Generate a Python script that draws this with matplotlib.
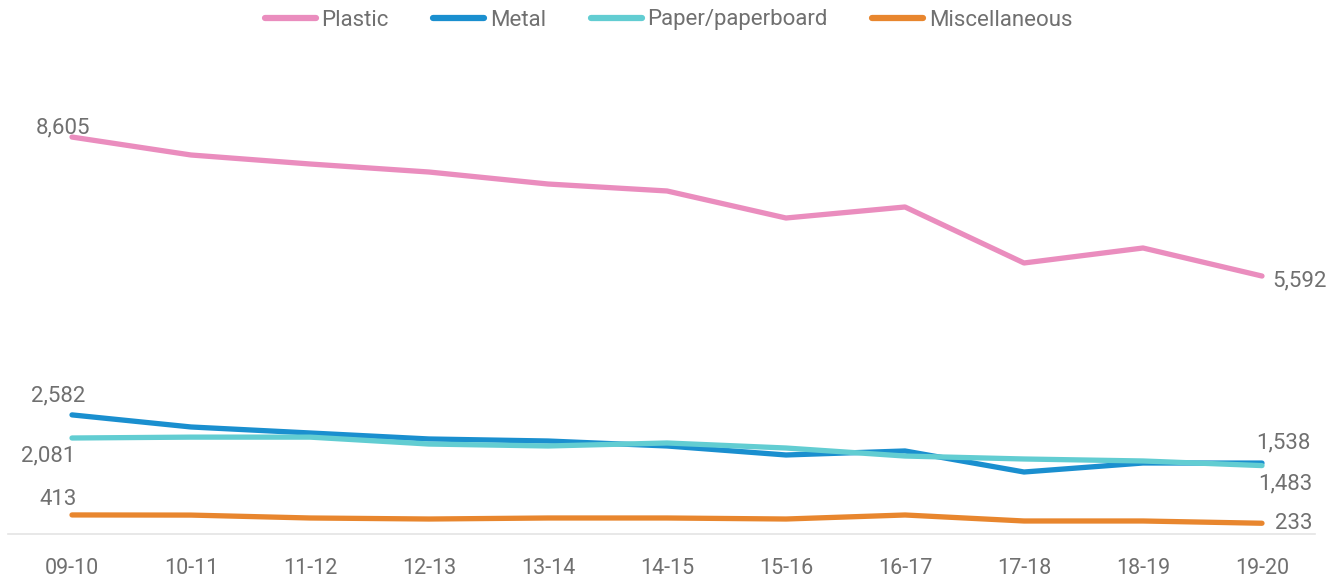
import matplotlib
matplotlib.use("Agg")
import matplotlib.pyplot as plt

categories = ["09-10", "10-11", "11-12", "12-13", "13-14", "14-15",
              "15-16", "16-17", "17-18", "18-19", "19-20"]
plastic = [8605, 8216, 8021, 7847, 7587, 7436, 6850, 7089, 5875, 6200, 5592]
metal = [2582, 2320, 2190, 2060, 2016, 1908, 1713, 1800, 1344, 1539, 1538]
paper = [2081, 2100, 2100, 1950, 1908, 1973, 1864, 1690, 1626, 1583, 1483]
misc = [413, 410, 347, 325, 347, 347, 325, 412, 282, 282, 233]
series_names = ["Plastic", "Metal", "Paper/paperboard", "Miscellaneous"]

colors = ["#EA8DBE", "#1A8FCF", "#62CDD2", "#E8862E"]
text_color = "#707070"

plt.rcParams["font.family"] = ["Roboto", "DejaVu Sans"]

W, H = 1337, 581
fig = plt.figure(figsize=(W / 100, H / 100), dpi=100)
left_px, right_px, bottom_px, top_px = 8, 1315, 534, 60
ax = fig.add_axes([left_px / W, 1 - bottom_px / H,
                   (right_px - left_px) / W, (bottom_px - top_px) / H])

x = list(range(len(categories)))
all_series = [plastic, metal, paper, misc]
for vals, name, c in zip(all_series, series_names, colors):
    ax.plot(x, vals, color=c, lw=3.8, solid_capstyle="round",
            solid_joinstyle="round", label=name)

px_per_cat = 119
ax.set_xlim(-(72 - left_px) / px_per_cat, 10 + (right_px - 1262) / px_per_cat)
ax.set_ylim(0, (bottom_px - top_px) / 0.04613)

ax.set_xticks(x)
ax.set_xticklabels(categories, fontsize=15.5, color=text_color)
ax.tick_params(axis="x", length=0, pad=17)
ax.set_yticks([])
for s in ["top", "right", "left"]:
    ax.spines[s].set_visible(False)
ax.spines["bottom"].set_color("#E4E4E4")
ax.spines["bottom"].set_linewidth(1.2)

def lab(xi, v, dx, dy, ha):
    ax.annotate(f"{v:,}", (xi, v), xytext=(dx, dy), textcoords="offset pixels",
                ha=ha, va="baseline", fontsize=16, color=text_color)

# start labels
lab(0, plastic[0], 18, 4, "right")
lab(0, metal[0], 13, 13, "right")
lab(0, paper[0], 3, -23, "right")
lab(0, misc[0], 5, 10, "right")
# end labels
lab(10, plastic[-1], 10, -10, "left")
lab(10, metal[-1], -6, 15, "left")
lab(10, paper[-1], -4, -24, "left")
lab(10, misc[-1], 13, -6, "left")

leg = fig.legend(loc="center", bbox_to_anchor=(0.5, 1 - 20 / H), ncol=4,
                 frameon=False, fontsize=16, handlelength=2.3,
                 handletextpad=0.25, columnspacing=2.0, labelcolor=text_color)
for h in leg.get_lines():
    h.set_linewidth(4.5)
    h.set_solid_capstyle("round")

fig.savefig("out.png", dpi=100, facecolor="white")
